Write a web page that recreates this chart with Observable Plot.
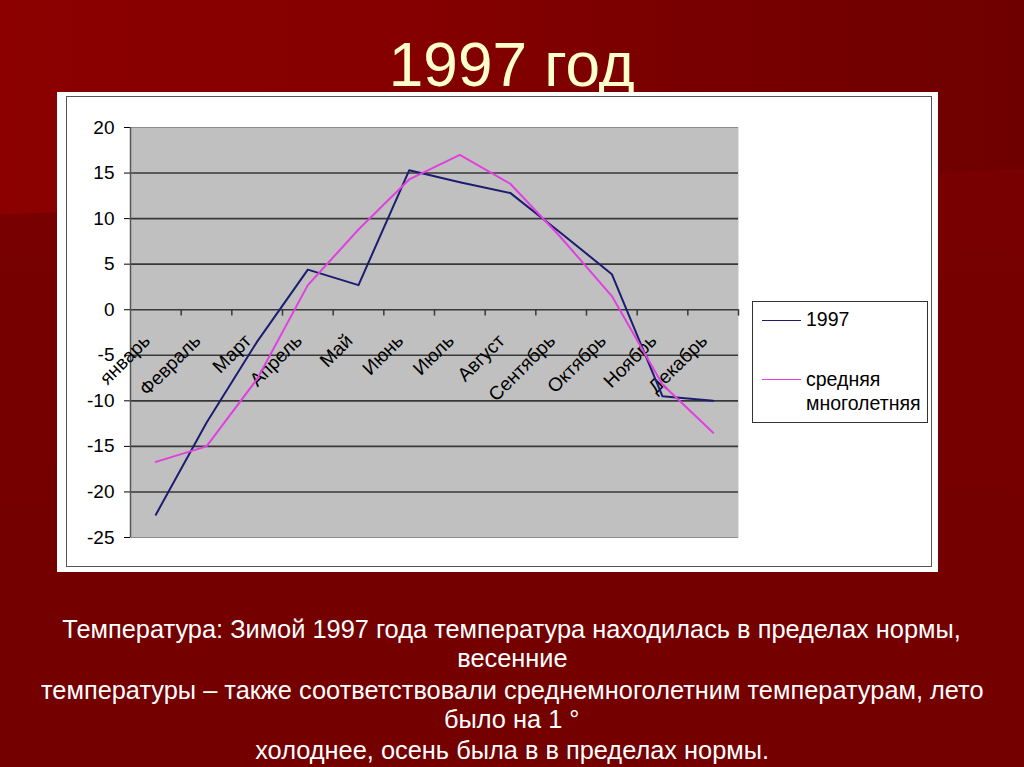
<!DOCTYPE html>
<html>
<head>
<meta charset="utf-8">
<script src="https://cdn.jsdelivr.net/npm/d3@7"></script>
<script src="https://cdn.jsdelivr.net/npm/@observablehq/plot@0.6"></script>
<style>
  html, body { margin: 0; padding: 0; }
  body {
    width: 1024px; height: 767px; overflow: hidden; position: relative;
    background: linear-gradient(180deg, #7c0000 0%, #760000 40%, #740000 100%);
    font-family: "Liberation Sans", Arial, sans-serif;
  }
  #bgtop {
    position: absolute; left: 0; top: 0; width: 1024px; height: 767px;
    background: linear-gradient(90deg, #8c0000 0%, #850000 40%, #760000 75%, #6f0000 100%);
    clip-path: polygon(0 0, 100% 0, 100% 22%, 0 28%);
  }
  .narrow { display: inline-block; transform-origin: 50% 50%; white-space: nowrap; }
  #title {
    position: absolute; left: 0; top: 28px; width: 1024px; text-align: center;
    font-family: "Liberation Sans", Arial, sans-serif;
    font-size: 63px; line-height: 72px; color: #ffffcc;
  }
  #panel {
    position: absolute; left: 57px; top: 92px; width: 881px; height: 480px; background: #ffffff;
  }
  #inner {
    position: absolute; left: 9px; top: 4px; right: 6px; bottom: 5px; border: 1px solid #555;
  }
  #chart { position: absolute; left: 0; top: 0; }
  #legend {
    position: absolute; left: 695px; top: 209px; width: 174px; height: 120px;
    border: 1px solid #333; background: #fff; font-size: 19.5px; color: #000;
  }
  .lg { position: absolute; left: 9px; width: 39px; height: 0; border-top: 1.5px solid; }
  .lt { position: absolute; left: 53px; line-height: 24px; }
  .cap {
    position: absolute; left: 0; width: 1024px; text-align: center; color: #ffffff;
    font-family: "Liberation Sans", Arial, sans-serif;
    font-size: 25px; line-height: 26px; white-space: nowrap;
  }
</style>
</head>
<body>
<div id="bgtop"></div>
<div id="title"><span class="narrow" id="titleText">1997 год</span></div>
<div id="panel">
  <div id="inner"></div>
  <div id="chart"></div>
  <div id="legend">
    <div class="lg" style="top:18px;border-color:#1c1c70"></div>
    <div class="lt" style="top:5px">1997</div>
    <div class="lg" style="top:77px;border-color:#e040e0"></div>
    <div class="lt" style="top:65px">средняя<br>многолетняя</div>
  </div>
</div>
<div class="cap" style="top:616px"><span class="narrow capText" id="cap1">Температура: Зимой 1997 года температура находилась в пределах нормы,</span></div>
<div class="cap" style="top:645px"><span class="narrow capText">весенние</span></div>
<div class="cap" style="top:677px"><span class="narrow capText" id="cap3">температуры – также соответствовали среднемноголетним температурам, лето</span></div>
<div class="cap" style="top:706px"><span class="narrow capText">было на 1 °</span></div>
<div class="cap" style="top:737px"><span class="narrow capText">холоднее, осень была в в пределах нормы.</span></div>
<script>
const months = ["январь", "Февраль", "Март", "Апрель", "Май", "Июнь", "Июль", "Август", "Сентябрь", "Октябрь", "Ноябрь", "Декабрь"];
const series1997 = [-22.5, -12.4, -3.5, 4.4, 2.7, 15.3, 14.0, 12.8, 8.4, 3.9, -9.5, -10.0];
const seriesAvg = [-16.7, -15.0, -7.6, 2.7, 8.8, 14.3, 17.0, 13.8, 7.9, 1.5, -8.2, -13.5];
const yTicks = [20, 15, 10, 5, 0, -5, -10, -15, -20, -25];
const gridLines = [15, 10, 5, 0, -5, -10, -15, -20];

// condensed look for slide text (Arial Narrow is not installed)
const titleEl = document.getElementById("titleText");
const tScale = 246 / titleEl.getBoundingClientRect().width;
titleEl.style.transform = `scaleX(${tScale})`;
const w1 = document.getElementById("cap1").getBoundingClientRect().width;
const w3 = document.getElementById("cap3").getBoundingClientRect().width;
const cScale = (911 + 930) / (w1 + w3);
document.querySelectorAll(".capText").forEach(el => el.style.transform = `scaleX(${cScale})`);

const rows1997 = months.map((m, i) => ({i, m, v: series1997[i]}));
const rowsAvg = months.map((m, i) => ({i, m, v: seriesAvg[i]}));
const boundaries = d3.range(1, months.length + 1);

const chart = Plot.plot({
  width: 881, height: 480,
  marginLeft: 73, marginRight: 200, marginTop: 35, marginBottom: 35,
  style: {fontFamily: "'Liberation Sans', Arial, sans-serif", fontSize: "19px", color: "#000", background: "transparent", overflow: "visible"},
  x: {type: "linear", domain: [0, months.length], axis: null},
  y: {domain: [-25, 20], ticks: yTicks, tickSize: 6, tickPadding: 10, tickFormat: d => String(d), label: null},
  marks: [
    Plot.frame({fill: "#c0c0c0", stroke: "none"}),
    Plot.ruleY(gridLines, {stroke: "#383838", strokeWidth: 1.6}),
    Plot.ruleY([20, -25], {stroke: "#8c8c8c", strokeWidth: 1}),
    Plot.ruleX([0], {stroke: "#555", strokeWidth: 1.5}),
    Plot.ruleX(boundaries, {y1: 0, y2: -0.7, stroke: "#383838", strokeWidth: 1.5}),
    Plot.text(rows1997, {x: d => d.i + 0.5, y: () => 0, text: "m", rotate: -45, textAnchor: "end", dy: 28, dx: -9, fontSize: 19, fill: "#000"}),
    Plot.line(rows1997, {x: d => d.i + 0.5, y: "v", stroke: "#1c1c70", strokeWidth: 2}),
    Plot.line(rowsAvg, {x: d => d.i + 0.5, y: "v", stroke: "#e040e0", strokeWidth: 2})
  ]
});
document.getElementById("chart").appendChild(chart);
</script>
</body>
</html>
